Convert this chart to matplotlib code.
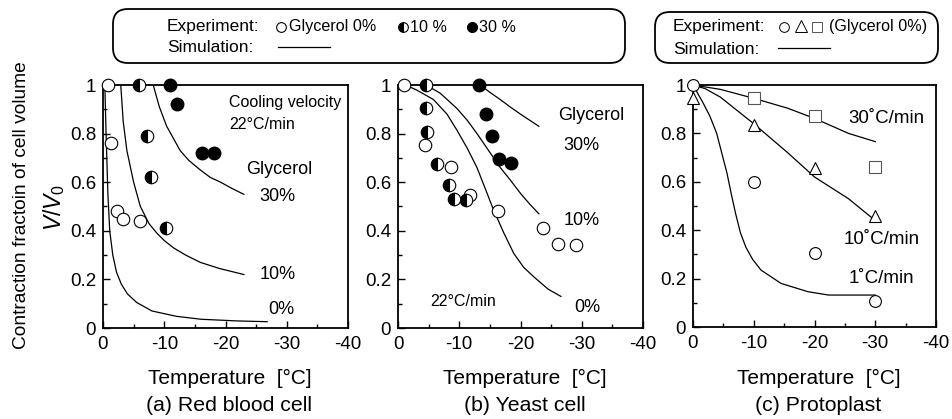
import numpy as np
import matplotlib
matplotlib.use("Agg")
import matplotlib.pyplot as plt
from matplotlib.patches import FancyBboxPatch

plt.rcParams['font.family'] = ['Liberation Sans', 'DejaVu Sans']
plt.rcParams['axes.unicode_minus'] = False
plt.rcParams['mathtext.fontset'] = 'custom'
plt.rcParams['mathtext.rm'] = 'Liberation Sans'
plt.rcParams['mathtext.it'] = 'Liberation Sans:italic'

# (a) red blood cell, cooling 22 C/min
a_exp0_T = [-0.8, -1.3, -2.3, -3.2, -6.0]
a_exp0_V = [1.0, 0.76, 0.48, 0.45, 0.44]
a_exp10_T = [-5.8, -7.2, -7.8, -10.3]
a_exp10_V = [1.0, 0.79, 0.62, 0.41]
a_exp30_T = [-10.9, -12.0, -16.1, -18.1]
a_exp30_V = [1.0, 0.92, 0.72, 0.72]
a_sim0_T = [-0.3, -0.5, -0.8, -1.1, -1.6, -2.2, -3.0, -4.0, -5.5, -8.0, -12.0, -16.0, -22.0, -26.8]
a_sim0_V = [1.0, 0.80, 0.55, 0.40, 0.30, 0.23, 0.18, 0.14, 0.105, 0.07, 0.048, 0.036, 0.029, 0.026]
a_sim10_T = [-2.9, -3.3, -3.9, -5.0, -6.1, -7.5, -8.8, -10.0, -11.5, -13.5, -15.9, -19.0, -23.0]
a_sim10_V = [1.0, 0.85, 0.73, 0.60, 0.50, 0.43, 0.39, 0.36, 0.33, 0.30, 0.27, 0.245, 0.22]
a_sim30_T = [-8.2, -9.2, -10.4, -11.5, -12.6, -14.0, -15.9, -17.5, -19.2, -21.0, -23.0]
a_sim30_V = [1.0, 0.91, 0.83, 0.78, 0.73, 0.69, 0.65, 0.62, 0.60, 0.575, 0.55]

# (b) yeast cell
b_exp0_T = [-1.0, -4.4, -8.7, -11.7, -16.3, -23.7, -26.1, -29.1]
b_exp0_V = [1.0, 0.753, 0.664, 0.547, 0.48, 0.41, 0.347, 0.34]
b_exp10_T = [-4.5, -4.5, -4.75, -6.3, -8.25, -9.2, -11.1]
b_exp10_V = [1.0, 0.907, 0.805, 0.675, 0.588, 0.53, 0.525]
b_exp30_T = [-13.2, -14.3, -15.4, -16.5, -18.5]
b_exp30_V = [1.0, 0.88, 0.79, 0.695, 0.68]
b_sim0_T = [-1.2, -3.0, -5.8, -8.0, -9.6, -11.3, -12.9, -14.3, -15.6, -17.3, -18.9, -20.5, -22.2, -24.5, -26.6]
b_sim0_V = [1.0, 0.98, 0.94, 0.88, 0.815, 0.74, 0.66, 0.57, 0.486, 0.39, 0.307, 0.25, 0.21, 0.16, 0.13]
b_sim10_T = [-4.6, -6.9, -9.6, -11.3, -12.9, -14.8, -16.7, -18.3, -20.0, -21.5, -23.0]
b_sim10_V = [1.0, 0.966, 0.904, 0.855, 0.80, 0.73, 0.66, 0.61, 0.554, 0.51, 0.47]
b_sim30_T = [-13.4, -15.0, -16.7, -18.3, -20.0, -21.5, -23.0]
b_sim30_V = [1.0, 0.97, 0.94, 0.91, 0.88, 0.855, 0.83]

# (c) protoplast, glycerol 0%
c_T = [0, -10, -20, -30]
c_circ_V = [1.0, 0.60, 0.305, 0.109]
c_tri_V = [0.945, 0.835, 0.655, 0.46]
c_sq_T = [-10, -20, -30]
c_sq_V = [0.945, 0.87, 0.66]
c_sim1_T = [0, -1.7, -2.8, -3.9, -5.6, -6.3, -7.0, -7.8, -8.7, -9.8, -11.2, -14.5, -18.9, -22.3, -30]
c_sim1_V = [1.0, 0.924, 0.87, 0.80, 0.635, 0.55, 0.47, 0.39, 0.33, 0.28, 0.235, 0.18, 0.146, 0.132, 0.132]
c_sim10_T = [0, -2.0, -4.5, -7.0, -10.0, -15.6, -20.0, -25.6, -30.0]
c_sim10_V = [1.0, 0.985, 0.95, 0.90, 0.84, 0.72, 0.62, 0.53, 0.44]
c_sim30_T = [0, -4.5, -10.0, -15.6, -20.0, -25.6, -30.0]
c_sim30_V = [1.0, 0.982, 0.945, 0.904, 0.862, 0.80, 0.766]

xticks = [0, -10, -20, -30, -40]
yticks = [0, 0.2, 0.4, 0.6, 0.8, 1.0]
ylabels = ['0', '0.2', '0.4', '0.6', '0.8', '1']

W, H = 952, 419
fig = plt.figure(figsize=(W / 100, H / 100), dpi=100)

def px_axes(x0, x1, y0, y1):
    return fig.add_axes([x0 / W, 1 - y1 / H, (x1 - x0) / W, (y1 - y0) / H])

def style(ax):
    ax.set_xlim(0, -40)
    ax.set_ylim(0, 1)
    ax.set_xticks(xticks)
    ax.set_xticklabels([str(t) for t in xticks])
    ax.set_xticks(np.arange(-5, -40, -10), minor=True)
    ax.set_yticks(yticks)
    ax.set_yticklabels(ylabels)
    ax.set_yticks(np.arange(0.1, 1.0, 0.2), minor=True)
    ax.tick_params(which='both', direction='in', labelsize=13.5, width=1.0)
    ax.tick_params(which='major', length=5)
    ax.tick_params(which='minor', length=3)
    ax.tick_params(axis='x', pad=6)
    ax.tick_params(axis='y', pad=5)
    for s in ax.spines.values():
        s.set_linewidth(1.3)

ms = 9
line_kw = dict(color='black', lw=0.9)
open_kw = dict(ls='none', marker='o', ms=ms, mfc='white', mec='black', mew=0.8, zorder=5)
half_kw = dict(ls='none', marker='o', ms=ms, fillstyle='left', mfc='black', mfcalt='white', mec='black', mew=0.8, zorder=5)
full_kw = dict(ls='none', marker='o', ms=ms, mfc='black', mec='black', zorder=5)

# panel a
ax1 = px_axes(103, 348, 85, 328)
style(ax1)
ax1.plot(a_sim0_T, a_sim0_V, **line_kw)
ax1.plot(a_sim10_T, a_sim10_V, **line_kw)
ax1.plot(a_sim30_T, a_sim30_V, **line_kw)
ax1.plot(a_exp0_T, a_exp0_V, clip_on=False, **open_kw)
ax1.plot(a_exp10_T, a_exp10_V, clip_on=False, **half_kw)
ax1.plot(a_exp30_T, a_exp30_V, clip_on=False, **full_kw)
ax1.text(-20.6, 0.93, 'Cooling velocity', fontsize=11.5, va='center')
ax1.text(-20.6, 0.836, '22°C/min', fontsize=11.5, va='center')
ax1.text(-23.3, 0.652, 'Glycerol', fontsize=13, va='center')
ax1.text(-25.5, 0.54, '30%', fontsize=13, va='center')
ax1.text(-25.5, 0.22, '10%', fontsize=13, va='center')
ax1.text(-27.0, 0.078, '0%', fontsize=13, va='center')

# panel b
ax2 = px_axes(398, 643, 85, 328)
style(ax2)
ax2.plot(b_sim0_T, b_sim0_V, **line_kw)
ax2.plot(b_sim10_T, b_sim10_V, **line_kw)
ax2.plot(b_sim30_T, b_sim30_V, **line_kw)
ax2.plot(b_exp0_T, b_exp0_V, clip_on=False, **open_kw)
ax2.plot(b_exp10_T, b_exp10_V, clip_on=False, **half_kw)
ax2.plot(b_exp30_T, b_exp30_V, clip_on=False, **full_kw)
ax2.text(-26.2, 0.876, 'Glycerol', fontsize=13, va='center')
ax2.text(-27.0, 0.753, '30%', fontsize=13, va='center')
ax2.text(-27.0, 0.444, '10%', fontsize=13, va='center')
ax2.text(-28.8, 0.086, '0%', fontsize=13, va='center')
ax2.text(-5.2, 0.107, '22°C/min', fontsize=11.5, va='center')

# panel c
ax3 = px_axes(693, 936, 85, 327)
style(ax3)
ax3.plot(c_sim1_T, c_sim1_V, **line_kw)
ax3.plot(c_sim10_T, c_sim10_V, **line_kw)
ax3.plot(c_sim30_T, c_sim30_V, **line_kw)
ax3.plot(c_T, c_tri_V, ls='none', marker='^', ms=9, mfc='white', mec='black', mew=0.8, zorder=5, clip_on=False)
ax3.plot(c_T, c_circ_V, ls='none', marker='o', ms=8.5, mfc='white', mec='black', mew=0.8, zorder=6, clip_on=False)
ax3.plot(c_sq_T, c_sq_V, ls='none', marker='s', ms=8, mfc='white', mec='#555555', mew=0.8, zorder=5, clip_on=False)
ax3.text(-25.6, 0.86, '30˚C/min', fontsize=13.5, va='center')
ax3.text(-24.8, 0.36, '10˚C/min', fontsize=13.5, va='center')
ax3.text(-25.6, 0.20, '1˚C/min', fontsize=13.5, va='center')

# axis titles
for ax, sub in [(ax1, '(a) Red blood cell'), (ax2, '(b) Yeast cell'), (ax3, '(c) Protoplast')]:
    pos = ax.get_position()
    xc = pos.x0 + pos.width / 2 + 4 / W
    fig.text(xc, 1 - 378 / H, 'Temperature  [°C]', fontsize=15, ha='center', va='center')
    fig.text(xc, 1 - 405 / H, sub, fontsize=15.3, ha='center', va='center')

fig.text(22 / W, 1 - 205 / H, 'Contraction fractoin of cell volume', fontsize=13.8,
         rotation=90, ha='center', va='center')
fig.text(54 / W, 1 - 207 / H, r'$V/V_0$', fontsize=16.5, rotation=90, ha='center', va='center')

# legend boxes drawn on an overlay in pixel coordinates
ov = fig.add_axes([0, 0, 1, 1])
ov.set_xlim(0, W)
ov.set_ylim(H, 0)
ov.axis('off')
ov.add_patch(FancyBboxPatch((113, 9), 512, 54, boxstyle='round,pad=0,rounding_size=15',
                            fc='none', ec='black', lw=1.3))
ov.add_patch(FancyBboxPatch((655, 12), 283, 51, boxstyle='round,pad=0,rounding_size=15',
                            fc='none', ec='black', lw=1.3))

leg_fs = 12.5
item_fs = 11.6
ov.text(167, 27, 'Experiment:', fontsize=leg_fs, va='center')
ov.text(167, 48, 'Simulation:', fontsize=leg_fs, va='center')
ov.plot([281], [27], ls='none', marker='o', ms=7, mfc='white', mec='black', mew=0.8)
ov.text(289, 27, 'Glycerol 0%', fontsize=item_fs, va='center')
ov.plot([403], [27], ls='none', marker='o', ms=7, fillstyle='left', mfc='black', mfcalt='white', mec='black', mew=0.8)
ov.text(410, 27, '10 %', fontsize=item_fs, va='center')
ov.plot([472], [27], ls='none', marker='o', ms=7, mfc='black', mec='black')
ov.text(479, 27, '30 %', fontsize=item_fs, va='center')
ov.plot([278, 330], [47, 47], color='black', lw=0.9)

ov.text(673, 27, 'Experiment:', fontsize=leg_fs, va='center')
ov.text(673, 49, 'Simulation:', fontsize=leg_fs, va='center')
ov.plot([784], [27], ls='none', marker='o', ms=7, mfc='white', mec='black', mew=0.7)
ov.plot([801], [26], ls='none', marker='^', ms=8, mfc='white', mec='black', mew=0.7)
ov.plot([817], [27], ls='none', marker='s', ms=6.5, mfc='white', mec='#555555', mew=0.7)
ov.text(829, 27, '(Glycerol 0%)', fontsize=item_fs, va='center')
ov.plot([778, 830], [48, 48], color='black', lw=0.9)

fig.savefig('out.png', dpi=100)
